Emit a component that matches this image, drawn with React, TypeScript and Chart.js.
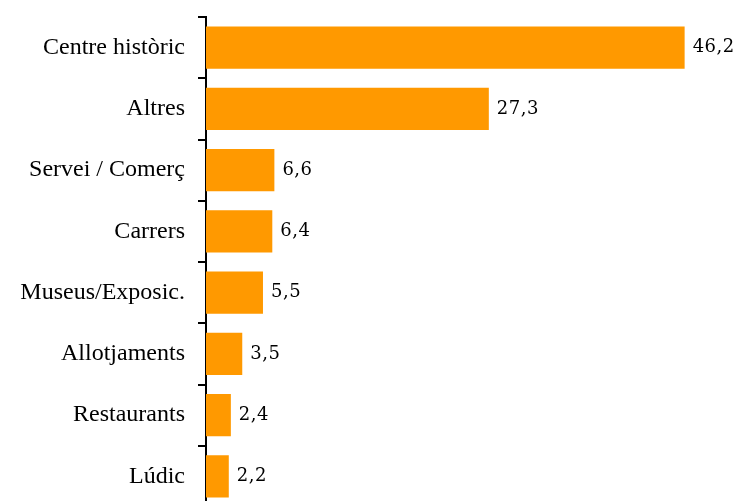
import React, { useEffect, useRef } from "react";
import { Chart, registerables } from "chart.js";

Chart.register(...registerables);

const categories = [
  "Centre històric",
  "Altres",
  "Servei / Comerç",
  "Carrers",
  "Museus/Exposic.",
  "Allotjaments",
  "Restaurants",
  "Lúdic",
];
const values = [46.2, 27.3, 6.6, 6.4, 5.5, 3.5, 2.4, 2.2];
const valueLabels = ["46,2", "27,3", "6,6", "6,4", "5,5", "3,5", "2,4", "2,2"];

const valueLabelPlugin = {
  id: "valueLabels",
  afterDatasetsDraw(chart: any) {
    const ctx = chart.ctx;
    const meta = chart.getDatasetMeta(0);
    ctx.save();
    ctx.font = "18px 'DejaVu Serif'";
    try {
      ctx.letterSpacing = "0.5px";
    } catch (e) {}
    ctx.fillStyle = "#000";
    ctx.textAlign = "left";
    ctx.textBaseline = "middle";
    meta.data.forEach((bar: any, i: number) => {
      ctx.fillText(valueLabels[i], bar.x + 8, bar.y);
    });
    ctx.restore();
  },
};

export default function App() {
  const ref = useRef<HTMLCanvasElement | null>(null);
  useEffect(() => {
    if (!ref.current) return;
    const chart = new Chart(ref.current, {
      type: "bar",
      data: {
        labels: categories,
        datasets: [
          {
            data: values,
            backgroundColor: "#FF9900",
            borderWidth: 0,
            barPercentage: 0.69,
            categoryPercentage: 1,
          },
        ],
      },
      options: {
        indexAxis: "y",
        responsive: false,
        animation: false,
        layout: { padding: { top: 17, bottom: 0, left: 0, right: 10 } },
        plugins: { legend: { display: false }, tooltip: { enabled: false } },
        scales: {
          x: { display: false, min: 0, max: 50 },
          y: {
            afterFit: (s: any) => {
              s.width = 206;
              s.paddingTop = 0;
              s.paddingBottom = 0;
            },
            border: { display: true, color: "#000", width: 2 },
            grid: {
              drawOnChartArea: false,
              drawTicks: true,
              tickLength: 8,
              color: "#000",
              lineWidth: 2,
              offset: true,
            },
            ticks: {
              color: "#000",
              padding: 13,
              font: { family: "'Liberation Serif'", size: 24 },
            },
          },
        },
      },
      plugins: [valueLabelPlugin],
    });
    return () => chart.destroy();
  }, []);
  return (
    <div
      style={{
        position: "fixed",
        left: 0,
        top: 0,
        width: 734,
        height: 501,
        overflow: "hidden",
        background: "#fff",
      }}
    >
      <canvas ref={ref} width={734} height={507} style={{ display: "block" }} />
    </div>
  );
}
